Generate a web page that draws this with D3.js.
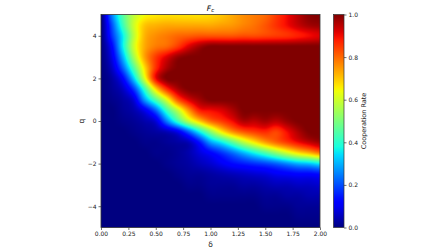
<!DOCTYPE html>
<html><head><meta charset="utf-8">
<script src="https://cdn.jsdelivr.net/npm/d3@7"></script>
<style>
html,body{margin:0;padding:0;background:#fff;}
text{font-family:"DejaVu Sans",sans-serif;fill:#222;}
</style></head>
<body><svg id="chart" width="448" height="252"></svg>
<script>
// ---- data ----
const deltaValues = [0.0,0.1,0.2,0.3,0.4,0.5,0.6,0.7,0.8,0.9,1.0,1.1,1.2,1.3,1.4,1.5,1.6,1.7,1.8,1.9,2.0];
const qValues = [5,4.5,4,3.5,3,2.5,2,1.5,1,0.5,0,-0.5,-1,-1.5,-2,-2.5,-3,-3.5,-4,-4.5,-5];
// cooperation rate: one row per q value (top to bottom), one column per delta value
const rate_q5    = [0,0.25,0.45,0.58,0.64,0.66,0.67,0.67,0.67,0.67,0.68,0.7,0.73,0.76,0.78,0.8,0.85,0.9,0.95,0.99,1];
const rate_q4_5  = [0,0.2,0.42,0.6,0.7,0.72,0.73,0.73,0.73,0.73,0.73,0.74,0.75,0.77,0.79,0.82,0.86,0.9,0.94,0.97,0.98];
const rate_q4    = [0,0.17,0.36,0.58,0.72,0.76,0.78,0.8,0.81,0.82,0.82,0.82,0.82,0.83,0.83,0.84,0.85,0.86,0.88,0.9,0.92];
const rate_q3_5  = [0,0.12,0.36,0.6,0.73,0.78,0.8,0.85,0.92,0.97,1,1,1,1,1,1,1,1,1,1,1];
const rate_q3    = [0,0.09,0.3,0.55,0.74,0.85,0.92,0.98,1,1,1,1,1,1,1,1,1,1,1,1,1];
const rate_q2_5  = [0,0.06,0.22,0.45,0.68,0.86,0.96,1,1,1,1,1,1,1,1,1,1,1,1,1,1];
const rate_q2    = [0,0.03,0.12,0.33,0.62,0.9,1,1,1,1,1,1,1,1,1,1,1,1,1,1,1];
const rate_q1_5  = [0,0.02,0.06,0.18,0.42,0.68,0.86,0.96,1,1,1,1,1,1,1,1,1,1,1,1,1];
const rate_q1    = [0,0.01,0.03,0.08,0.28,0.45,0.62,0.82,0.92,0.97,1,1,1,1,1,1,1,1,1,1,1];
const rate_q0_5  = [0,0,0.02,0.04,0.1,0.22,0.42,0.58,0.75,0.88,0.9,0.92,0.96,1,1,1,1,1,1,1,1];
const rate_q0    = [0,0,0.01,0.02,0.04,0.08,0.25,0.42,0.58,0.7,0.8,0.85,0.9,0.96,0.95,0.97,0.95,0.98,1,1,1];
const rate_qm0_5 = [0,0,0,0.01,0.02,0.03,0.05,0.1,0.22,0.37,0.52,0.66,0.76,0.82,0.85,0.87,0.84,0.9,0.96,1,1];
const rate_qm1   = [0,0,0,0,0.01,0.01,0.02,0.03,0.05,0.14,0.28,0.36,0.46,0.57,0.66,0.74,0.8,0.85,0.9,0.94,0.97];
const rate_qm1_5 = [0,0,0,0,0,0.01,0.01,0.02,0.04,0.08,0.12,0.17,0.23,0.3,0.37,0.44,0.52,0.6,0.67,0.72,0.78];
const rate_qm2   = [0,0,0,0,0,0,0.01,0.02,0.03,0.05,0.07,0.1,0.13,0.15,0.17,0.19,0.22,0.26,0.3,0.32,0.36];
const rate_qm2_5 = [0,0,0,0,0,0,0,0.01,0.02,0.02,0.03,0.04,0.05,0.06,0.07,0.08,0.1,0.11,0.12,0.12,0.13];
const rate_qm3   = [0,0,0,0,0,0,0,0,0.01,0.01,0.02,0.02,0.02,0.03,0.03,0.04,0.05,0.05,0.06,0.06,0.07];
const rate_qm3_5 = [0,0,0,0,0,0,0,0,0,0,0.01,0.01,0.01,0.01,0.01,0.02,0.02,0.03,0.03,0.04,0.04];
const rate_qm4   = [0,0,0,0,0,0,0,0,0,0,0,0,0,0,0,0.01,0.01,0.01,0.02,0.02,0.02];
const rate_qm4_5 = [0,0,0,0,0,0,0,0,0,0,0,0,0,0,0,0,0,0,0.01,0.01,0.01];
const rate_qm5   = [0,0,0,0,0,0,0,0,0,0,0,0,0,0,0,0,0,0,0,0,0];
const rateRows = [rate_q5,rate_q4_5,rate_q4,rate_q3_5,rate_q3,rate_q2_5,rate_q2,rate_q1_5,rate_q1,rate_q0_5,rate_q0,
  rate_qm0_5,rate_qm1,rate_qm1_5,rate_qm2,rate_qm2_5,rate_qm3,rate_qm3_5,rate_qm4,rate_qm4_5,rate_qm5];
const xTicks = [0.00,0.25,0.50,0.75,1.00,1.25,1.50,1.75,2.00];
const yTicks = [-4,-2,0,2,4];
const cTicks = [0.0,0.2,0.4,0.6,0.8,1.0];
const titleMain = "F", titleSub = "c";
const xLabel = "δ", yLabel = "q", cLabel = "Cooperation Rate";

// ---- jet colormap (matplotlib segment data) ----
const jetR = [[0,0],[0.35,0],[0.66,1],[0.89,1],[1,0.5]];
const jetG = [[0,0],[0.125,0],[0.375,1],[0.64,1],[0.91,0],[1,0]];
const jetB = [[0,0.5],[0.11,1],[0.34,1],[0.65,0],[1,0]];
function seg(s,t){for(let i=1;i<s.length;i++){if(t<=s[i][0]){const a=s[i-1],b=s[i];return a[1]+(b[1]-a[1])*(t-a[0])/(b[0]-a[0]);}}return s[s.length-1][1];}
function jet(t){t=Math.max(0,Math.min(1,t));return [seg(jetR,t)*255,seg(jetG,t)*255,seg(jetB,t)*255];}

// ---- layout ----
const svg = d3.select("#chart");
const L=101, R=320, T=14.5, B=227.5;
const x = d3.scaleLinear().domain([0,2]).range([L,R]);
const y = d3.scaleLinear().domain([-5,5]).range([B,T]);
const colIdx = d3.scaleLinear().domain([deltaValues[0], deltaValues[deltaValues.length-1]]).range([0, deltaValues.length-1]);
const rowIdx = d3.scaleLinear().domain([qValues[0], qValues[qValues.length-1]]).range([0, qValues.length-1]);
const nC = deltaValues.length, nR = qValues.length;
function g(r,c){r=Math.max(0,Math.min(nR-1,r));c=Math.max(0,Math.min(nC-1,c));return rateRows[r][c];}
function cr(p0,p1,p2,p3,t){return p1+0.5*t*(p2-p0+t*(2*p0-5*p1+4*p2-p3+t*(3*(p1-p2)+p3-p0)));}
function sample(d,q){
  const cf=colIdx(d), rf=rowIdx(q);
  const c=Math.floor(cf), r=Math.floor(rf), tc=cf-c, tr=rf-r;
  const rows=[];
  for(let k=-1;k<=2;k++){rows.push(cr(g(r+k,c-1),g(r+k,c),g(r+k,c+1),g(r+k,c+2),tc));}
  return cr(rows[0],rows[1],rows[2],rows[3],tr);
}

// heatmap via canvas, positioned with the scales
const W=Math.round(R-L), H=Math.round(B-T);
const cv=document.createElement("canvas"); cv.width=W; cv.height=H;
const ctx=cv.getContext("2d"); const img=ctx.createImageData(W,H);
for(let j=0;j<H;j++){for(let i=0;i<W;i++){
  const d=x.invert(L+i+0.5), q=y.invert(T+j+0.5);
  const col=jet(sample(d,q)); const k=(j*W+i)*4;
  img.data[k]=col[0];img.data[k+1]=col[1];img.data[k+2]=col[2];img.data[k+3]=255;}}
ctx.putImageData(img,0,0);
svg.append("image").attr("x",x(0)).attr("y",y(5)).attr("width",x(2)-x(0)).attr("height",y(-5)-y(5))
  .attr("preserveAspectRatio","none").attr("href",cv.toDataURL());

// axes
const fmt2=d3.format(".2f");
const xa=svg.append("g").attr("transform",`translate(0,${B})`)
  .call(d3.axisBottom(x).tickValues(xTicks).tickFormat(fmt2).tickSize(2.5).tickPadding(2));
const ya=svg.append("g").attr("transform",`translate(${L},0)`)
  .call(d3.axisLeft(y).tickValues(yTicks).tickFormat(d=>d<0?"\u2212"+Math.abs(d):d).tickSize(2.5).tickPadding(2));
[xa,ya].forEach(a=>{a.select(".domain").remove();a.selectAll("line").attr("stroke","#333").attr("stroke-width",0.7);
  a.selectAll("text").style("font-size","6px").attr("fill","#222");});
svg.append("rect").attr("x",L).attr("y",T).attr("width",R-L).attr("height",B-T)
  .attr("fill","none").attr("stroke","#333").attr("stroke-width",0.8);

// title
const tt=svg.append("text").attr("x",(L+R)/2).attr("y",10.5).attr("text-anchor","middle")
  .attr("fill","#000").style("fill","#000").style("font-size","7.5px").style("font-style","italic");
tt.append("tspan").text(titleMain).style("fill","#000");
tt.append("tspan").text(titleSub).attr("dy",1.8).style("font-size","5.5px").style("fill","#000");

svg.append("text").attr("x",(L+R)/2).attr("y",247).attr("text-anchor","middle").style("font-size","7.5px").text(xLabel);
svg.append("text").attr("transform",`translate(84,${(T+B)/2}) rotate(-90)`).attr("text-anchor","middle")
  .style("font-size","7.5px").text(yLabel);

// colorbar
const CL=333.5, CR=344;
const cy=d3.scaleLinear().domain([0,1]).range([B,T]);
const defs=svg.append("defs");
const grad=defs.append("linearGradient").attr("id","jetgrad").attr("x1",0).attr("y1",1).attr("x2",0).attr("y2",0);
d3.range(0,1.0001,0.02).forEach(t=>{const c=jet(t);grad.append("stop").attr("offset",t).attr("stop-color",`rgb(${c.map(Math.round).join(",")})`);});
svg.append("rect").attr("x",CL).attr("y",cy(1)).attr("width",CR-CL).attr("height",cy(0)-cy(1))
  .attr("fill","url(#jetgrad)").attr("stroke","#333").attr("stroke-width",0.7);
const ca=svg.append("g").attr("transform",`translate(${CR},0)`)
  .call(d3.axisRight(cy).tickValues(cTicks).tickFormat(d3.format(".1f")).tickSize(2.5).tickPadding(2));
ca.select(".domain").remove();
ca.selectAll("line").attr("stroke","#333").attr("stroke-width",0.7);
ca.selectAll("text").style("font-size","6px").attr("fill","#222");
svg.append("text").attr("transform",`translate(366,${(T+B)/2}) rotate(-90)`).attr("text-anchor","middle")
  .style("font-size","6.5px").text(cLabel);
</script></body></html>
